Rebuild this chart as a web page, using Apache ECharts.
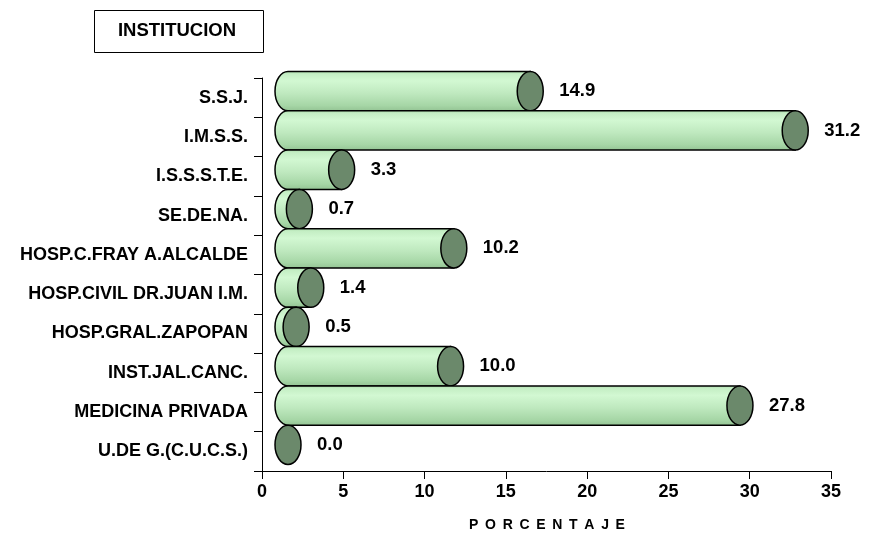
<!DOCTYPE html>
<html>
<head>
<meta charset="utf-8">
<script src="https://cdn.jsdelivr.net/npm/echarts@6/dist/echarts.min.js"></script>
<style>
html,body{margin:0;padding:0;background:#fff;}
#chart{width:870px;height:536px;}
</style>
</head>
<body>
<div id="chart"></div>
<script>
const categories = ['S.S.J.', 'I.M.S.S.', 'I.S.S.S.T.E.', 'SE.DE.NA.', 'HOSP.C.FRAY A.ALCALDE', 'HOSP.CIVIL DR.JUAN I.M.', 'HOSP.GRAL.ZAPOPAN', 'INST.JAL.CANC.', 'MEDICINA PRIVADA', 'U.DE G.(C.U.C.S.)'];
const values = [14.9, 31.2, 3.3, 0.7, 10.2, 1.4, 0.5, 10.0, 27.8, 0.0];
const xTicks = [0, 5, 10, 15, 20, 25, 30, 35];
const titleText = 'INSTITUCION';
const axisTitle = 'P\u2009 O\u2009 R\u2009 C\u2009 E\u2009 N\u2009 T\u2009 A\u2009 J\u2009 E';

const FONT = '"Liberation Sans", Arial, sans-serif';
const chart = echarts.init(document.getElementById('chart'), null, {renderer: 'canvas'});

const bodyGradient = new echarts.graphic.LinearGradient(0, 0, 0, 1, [
  {offset: 0, color: '#a9d9a9'},
  {offset: 0.08, color: '#c4eec4'},
  {offset: 0.25, color: '#d2f8d2'},
  {offset: 0.55, color: '#bfe9bf'},
  {offset: 0.85, color: '#a6d6a6'},
  {offset: 1, color: '#92c292'}
]);

function renderItem(params, api) {
  const idx = api.value(0);
  const val = api.value(1);
  const p0 = api.coord([0, idx]);
  const p1 = api.coord([val, idx]);
  const band = api.size([0, 1])[1];
  const dx = 26, dy = -6.5;
  const rx = 13, ry = band / 2;
  const cx0 = p0[0] + dx, cx1 = p1[0] + dx, cy = p0[1] + dy;
  const children = [];
  if (cx1 - cx0 > 0.5) {
    children.push({
      type: 'path',
      shape: {
        pathData: 'M' + cx0 + ' ' + (cy - ry) + ' L' + cx1 + ' ' + (cy - ry) +
          ' L' + cx1 + ' ' + (cy + ry) + ' L' + cx0 + ' ' + (cy + ry) +
          ' A' + rx + ' ' + ry + ' 0 0 1 ' + cx0 + ' ' + (cy - ry) + ' Z'
      },
      style: {fill: bodyGradient, stroke: '#000', lineWidth: 1.5}
    });
  }
  children.push({
    type: 'path',
    shape: {
      pathData: 'M' + (cx1 + rx) + ' ' + cy +
        ' A' + rx + ' ' + ry + ' 0 1 1 ' + (cx1 - rx) + ' ' + cy +
        ' A' + rx + ' ' + ry + ' 0 1 1 ' + (cx1 + rx) + ' ' + cy + ' Z'
    },
    style: {fill: '#6b896b', stroke: '#000', lineWidth: 1.5}
  });
  children.push({
    type: 'text',
    style: {
      text: val.toFixed(1),
      x: cx1 + rx + 16,
      y: cy,
      align: 'left',
      verticalAlign: 'middle',
      font: 'bold 18.5px ' + FONT,
      fill: '#000'
    }
  });
  return {type: 'group', children: children};
}

chart.setOption({
  animation: false,
  backgroundColor: '#fff',
  grid: {left: 262, right: 39, top: 78, bottom: 65, containLabel: false},
  xAxis: {
    type: 'value',
    min: xTicks[0],
    max: xTicks[xTicks.length - 1],
    interval: 5,
    axisLine: {show: true, lineStyle: {color: '#000', width: 1}},
    axisTick: {show: true, length: 8, lineStyle: {color: '#000'}},
    splitLine: {show: false},
    axisLabel: {color: '#000', fontFamily: FONT, fontWeight: 'bold', fontSize: 18, margin: 12}
  },
  yAxis: {
    type: 'category',
    data: categories,
    inverse: true,
    axisLine: {show: true, lineStyle: {color: '#000', width: 1}},
    axisTick: {show: true, length: 8, lineStyle: {color: '#000'}},
    axisLabel: {color: '#000', fontFamily: FONT, fontWeight: 'bold', fontSize: 18, margin: 14}
  },
  series: [{
    type: 'custom',
    renderItem: renderItem,
    encode: {x: 1, y: 0},
    data: values.map((v, i) => [i, v]),
    clip: false
  }],
  graphic: [
    {type: 'rect', left: 94, top: 10, shape: {width: 169, height: 42},
      style: {fill: '#fff', stroke: '#000', lineWidth: 1}},
    {type: 'text', x: 177, y: 31, style: {text: titleText, align: 'center', verticalAlign: 'middle',
      font: 'bold 18.5px ' + FONT, fill: '#000'}},
    {type: 'text', x: 547, y: 525, style: {text: axisTitle, align: 'center', verticalAlign: 'middle',
      font: 'bold 14px ' + FONT, fill: '#000'}}
  ]
});
</script>
</body>
</html>
